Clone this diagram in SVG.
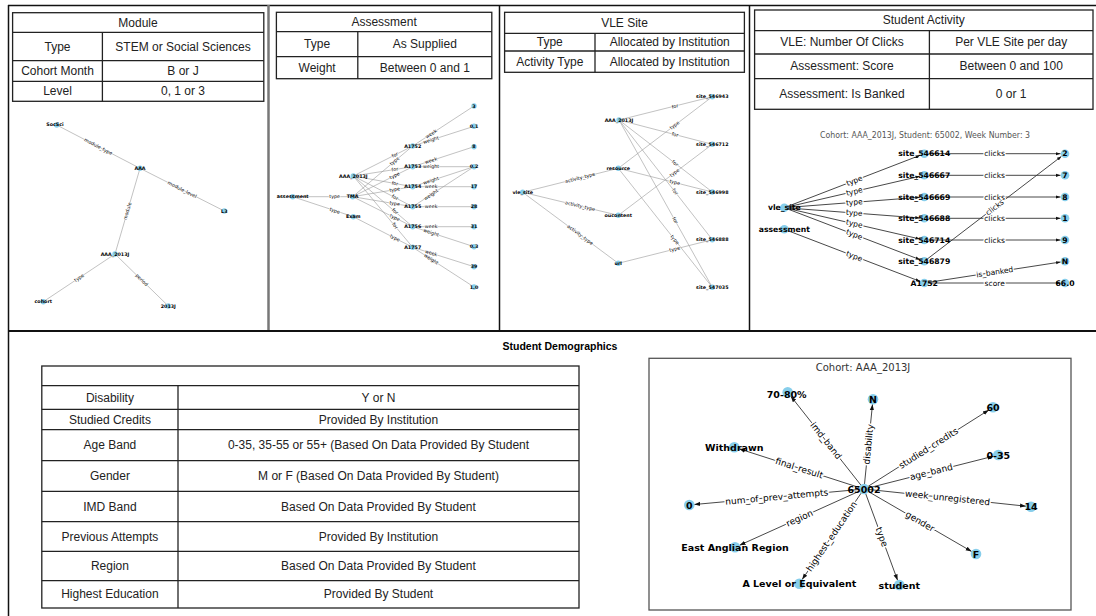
<svg xmlns="http://www.w3.org/2000/svg" width="1096" height="616" viewBox="0 0 1096 616">
<style>
.fr{stroke:#111;stroke-width:1.5;fill:none}
.tb{fill:none;stroke:#222;stroke-width:1.3}
.tt{font-family:"Liberation Sans",Arial,sans-serif;font-size:12px;fill:#222;text-anchor:middle;dominant-baseline:central}
.nd{fill:#87CEEB}
.gl{font-family:"DejaVu Sans",sans-serif;text-anchor:middle;dominant-baseline:central}
.nl{font-weight:bold;fill:#000}
.el{fill:#000;paint-order:stroke;stroke:#fff;stroke-linejoin:round}
.e1{stroke:#999;stroke-width:0.6;fill:none}
.e2{stroke:#333;stroke-width:0.9;fill:none}
.s1 .nl{font-size:4.8px}
.s1 .el{font-size:4.8px;stroke-width:1.2px}
.s2 .nl{font-size:7.7px}
.s2 .el{font-size:7.5px;stroke-width:2.5px}
.s3 .nl{font-size:9.5px}
.s3 .el{font-size:9px;stroke-width:3px}
</style>
<defs>
<marker id="ah" viewBox="0 0 10 10" refX="10" refY="5" markerWidth="6" markerHeight="6" markerUnits="userSpaceOnUse" orient="auto"><path d="M0,1.5 L10,5 L0,8.5 z" fill="#111"/></marker>
<marker id="ah2" viewBox="0 0 10 10" refX="10" refY="5" markerWidth="4.5" markerHeight="4.5" markerUnits="userSpaceOnUse" orient="auto"><path d="M0,1.5 L10,5 L0,8.5 z" fill="#111"/></marker>
</defs>
<rect width="1096" height="616" fill="#fff"/>

<g id="frame">
<line class="fr" x1="8" y1="5.5" x2="1096" y2="5.5"/>
<line class="fr" x1="8.5" y1="5" x2="8.5" y2="616"/>
<line x1="268.5" y1="5" x2="268.5" y2="331" stroke="#777" stroke-width="2.5"/>
<line class="fr" x1="499.5" y1="5" x2="499.5" y2="331"/>
<line class="fr" x1="749.5" y1="5" x2="749.5" y2="331"/>
<line x1="8" y1="331" x2="1096" y2="331" stroke="#111" stroke-width="2"/>
</g>

<g id="table-module">
<rect class="tb" x="12.6" y="12.7" width="251.2" height="88.6"/>
<line class="tb" x1="12.6" y1="32.3" x2="263.8" y2="32.3"/>
<line class="tb" x1="12.6" y1="60.7" x2="263.8" y2="60.7"/>
<line class="tb" x1="12.6" y1="81.3" x2="263.8" y2="81.3"/>
<line class="tb" x1="102.4" y1="32.3" x2="102.4" y2="101.3"/>
<text class="tt" x="138" y="22.5">Module</text>
<text class="tt" x="57.5" y="46.5">Type</text>
<text class="tt" x="183" y="46.5">STEM or Social Sciences</text>
<text class="tt" x="57.5" y="71">Cohort Month</text>
<text class="tt" x="183" y="71">B or J</text>
<text class="tt" x="57.5" y="91.3">Level</text>
<text class="tt" x="183" y="91.3">0, 1 or 3</text>
</g>

<g id="table-assessment">
<rect class="tb" x="276.4" y="12.3" width="215.4" height="66.4"/>
<line class="tb" x1="276.4" y1="31.7" x2="491.8" y2="31.7"/>
<line class="tb" x1="276.4" y1="56.7" x2="491.8" y2="56.7"/>
<line class="tb" x1="357.8" y1="31.7" x2="357.8" y2="78.7"/>
<text class="tt" x="384.1" y="22">Assessment</text>
<text class="tt" x="317.1" y="44.2">Type</text>
<text class="tt" x="424.8" y="44.2">As Supplied</text>
<text class="tt" x="317.1" y="67.7">Weight</text>
<text class="tt" x="424.8" y="67.7">Between 0 and 1</text>
</g>

<g id="table-vle">
<rect class="tb" x="504.6" y="12.3" width="239.8" height="60"/>
<line class="tb" x1="504.6" y1="33.3" x2="744.4" y2="33.3"/>
<line class="tb" x1="504.6" y1="51" x2="744.4" y2="51"/>
<line class="tb" x1="595" y1="33.3" x2="595" y2="72.3"/>
<text class="tt" x="624.5" y="22.8">VLE Site</text>
<text class="tt" x="549.8" y="42.2">Type</text>
<text class="tt" x="669.7" y="42.2">Allocated by Institution</text>
<text class="tt" x="549.8" y="61.7">Activity Type</text>
<text class="tt" x="669.7" y="61.7">Allocated by Institution</text>
</g>

<g id="table-activity">
<rect class="tb" x="754.6" y="10" width="338.4" height="99.3"/>
<line class="tb" x1="754.6" y1="30.7" x2="1093" y2="30.7"/>
<line class="tb" x1="754.6" y1="54" x2="1093" y2="54"/>
<line class="tb" x1="754.6" y1="78.7" x2="1093" y2="78.7"/>
<line class="tb" x1="929.4" y1="30.7" x2="929.4" y2="109.3"/>
<text class="tt" x="923.8" y="20.3">Student Activity</text>
<text class="tt" x="842" y="42.3">VLE: Number Of Clicks</text>
<text class="tt" x="1011.2" y="42.3">Per VLE Site per day</text>
<text class="tt" x="842" y="66.3">Assessment: Score</text>
<text class="tt" x="1011.2" y="66.3">Between 0 and 100</text>
<text class="tt" x="842" y="94">Assessment: Is Banked</text>
<text class="tt" x="1011.2" y="94">0 or 1</text>
</g>

<g id="module-graph" class="gl s1">
<g id="module-connectors">
<line class="e1" x1="140" y1="168.3" x2="56.7" y2="125"/>
<line class="e1" x1="140" y1="168.3" x2="224.3" y2="211"/>
<line class="e1" x1="115" y1="254" x2="140" y2="168.3"/>
<line class="e1" x1="115" y1="254" x2="43.3" y2="301.7"/>
<line class="e1" x1="115" y1="254" x2="168.3" y2="306"/>
<text class="el" transform="translate(98.3,146.7) rotate(27.5)">module_type</text>
<text class="el" transform="translate(182.2,189.7) rotate(26.9)">module_level</text>
<text class="el" transform="translate(127.5,211.2) rotate(-73.7)">module</text>
<text class="el" transform="translate(79.2,277.8) rotate(-33.6)">type</text>
<text class="el" transform="translate(141.7,280) rotate(44.3)">period</text>
</g>
<g id="m-socsci"><circle class="nd" cx="56.7" cy="125" r="2.7"/><text class="nl" x="55" y="124.5">SocSci</text></g>
<g id="m-aaa"><circle class="nd" cx="140" cy="168.3" r="2.7"/><text class="nl" x="140" y="168.3">AAA</text></g>
<g id="m-l3"><circle class="nd" cx="224.3" cy="211" r="2.7"/><text class="nl" x="224.3" y="211">L3</text></g>
<g id="m-aaa2013j"><circle class="nd" cx="115" cy="254" r="2.7"/><text class="nl" x="115" y="254">AAA_2013J</text></g>
<g id="m-cohort"><circle class="nd" cx="43.3" cy="301.7" r="2.7"/><text class="nl" x="43.3" y="301.7">cohort</text></g>
<g id="m-2013j"><circle class="nd" cx="168.3" cy="306" r="2.7"/><text class="nl" x="168.3" y="306">2013J</text></g>
</g>

<g id="assessment-graph" class="gl s1">
<g id="assessment-connectors">
<line class="e1" x1="292.7" y1="196.7" x2="352.7" y2="196.7"/>
<line class="e1" x1="292.7" y1="196.7" x2="353.3" y2="216.7"/>
<line class="e1" x1="352.7" y1="196.7" x2="412.7" y2="146"/>
<line class="e1" x1="352.7" y1="196.7" x2="412.7" y2="166.7"/>
<line class="e1" x1="352.7" y1="196.7" x2="412.7" y2="186.7"/>
<line class="e1" x1="352.7" y1="196.7" x2="412.7" y2="206.7"/>
<line class="e1" x1="352.7" y1="196.7" x2="412.7" y2="226.7"/>
<line class="e1" x1="353.3" y1="216.7" x2="412.7" y2="247.3"/>
<line class="e1" x1="353.3" y1="176" x2="412.7" y2="146"/>
<line class="e1" x1="353.3" y1="176" x2="412.7" y2="166.7"/>
<line class="e1" x1="353.3" y1="176" x2="412.7" y2="186.7"/>
<line class="e1" x1="353.3" y1="176" x2="412.7" y2="206.7"/>
<line class="e1" x1="353.3" y1="176" x2="412.7" y2="226.7"/>
<line class="e1" x1="353.3" y1="176" x2="412.7" y2="247.3"/>
<line class="e1" x1="412.7" y1="146" x2="474" y2="106"/>
<line class="e1" x1="412.7" y1="146" x2="474" y2="126.3"/>
<line class="e1" x1="412.7" y1="166.7" x2="474" y2="146.7"/>
<line class="e1" x1="412.7" y1="166.7" x2="474" y2="166.7"/>
<line class="e1" x1="412.7" y1="186.7" x2="474" y2="166.7"/>
<line class="e1" x1="412.7" y1="186.7" x2="474" y2="186.7"/>
<line class="e1" x1="412.7" y1="206.7" x2="474" y2="166.7"/>
<line class="e1" x1="412.7" y1="206.7" x2="474" y2="206.7"/>
<line class="e1" x1="412.7" y1="226.7" x2="474" y2="226.7"/>
<line class="e1" x1="412.7" y1="226.7" x2="474" y2="246.7"/>
<line class="e1" x1="412.7" y1="247.3" x2="474" y2="266.7"/>
<line class="e1" x1="412.7" y1="247.3" x2="474" y2="287"/>
<text class="el" transform="translate(334.7,196.7)">type</text>
<text class="el" transform="translate(334.7,210.7) rotate(18.3)">type</text>
<text class="el" transform="translate(394.7,161.2) rotate(-40.2)">type</text>
<text class="el" transform="translate(394.7,175.7) rotate(-26.6)">type</text>
<text class="el" transform="translate(394.7,189.7) rotate(-9.5)">type</text>
<text class="el" transform="translate(394.7,203.7) rotate(9.5)">type</text>
<text class="el" transform="translate(394.7,217.7) rotate(26.6)">type</text>
<text class="el" transform="translate(394.9,238.1) rotate(27.3)">type</text>
<text class="el" transform="translate(394.9,155) rotate(-26.8)">for</text>
<text class="el" transform="translate(394.9,169.5) rotate(-8.9)">for</text>
<text class="el" transform="translate(394.9,183.5) rotate(10.2)">for</text>
<text class="el" transform="translate(394.9,197.5) rotate(27.3)">for</text>
<text class="el" transform="translate(394.9,211.5) rotate(40.5)">for</text>
<text class="el" transform="translate(394.9,225.9) rotate(50.2)">for</text>
<text class="el" transform="translate(431.1,134) rotate(-33.1)">week</text>
<text class="el" transform="translate(431.1,140.1) rotate(-17.8)">weight</text>
<text class="el" transform="translate(431.1,160.7) rotate(-18.1)">week</text>
<text class="el" transform="translate(431.1,166.7)">weight</text>
<text class="el" transform="translate(431.1,180.7) rotate(-18.1)">weight</text>
<text class="el" transform="translate(431.1,186.7)">week</text>
<text class="el" transform="translate(431.1,194.7) rotate(-33.1)">weight</text>
<text class="el" transform="translate(431.1,206.7)">week</text>
<text class="el" transform="translate(431.1,226.7)">week</text>
<text class="el" transform="translate(431.1,232.7) rotate(18.1)">weight</text>
<text class="el" transform="translate(431.1,253.1) rotate(17.6)">week</text>
<text class="el" transform="translate(431.1,259.2) rotate(32.9)">weight</text>
</g>
<g id="a-assessment"><circle class="nd" cx="292.7" cy="196.7" r="2.7"/><text class="nl" x="292.7" y="196.7">assessment</text></g>
<g id="a-tma"><circle class="nd" cx="352.7" cy="196.7" r="2.7"/><text class="nl" x="352.7" y="196.7">TMA</text></g>
<g id="a-exam"><circle class="nd" cx="353.3" cy="216.7" r="2.7"/><text class="nl" x="353.3" y="216.7">Exam</text></g>
<g id="a-aaa2013j"><circle class="nd" cx="353.3" cy="176" r="2.7"/><text class="nl" x="353.3" y="176">AAA_2013J</text></g>
<g id="a-a1752"><circle class="nd" cx="412.7" cy="146" r="2.7"/><text class="nl" x="412.7" y="146">A1752</text></g>
<g id="a-a1753"><circle class="nd" cx="412.7" cy="166.7" r="2.7"/><text class="nl" x="412.7" y="166.7">A1753</text></g>
<g id="a-a1754"><circle class="nd" cx="412.7" cy="186.7" r="2.7"/><text class="nl" x="412.7" y="186.7">A1754</text></g>
<g id="a-a1755"><circle class="nd" cx="412.7" cy="206.7" r="2.7"/><text class="nl" x="412.7" y="206.7">A1755</text></g>
<g id="a-a1756"><circle class="nd" cx="412.7" cy="226.7" r="2.7"/><text class="nl" x="412.7" y="226.7">A1756</text></g>
<g id="a-a1757"><circle class="nd" cx="412.7" cy="247.3" r="2.7"/><text class="nl" x="412.7" y="247.3">A1757</text></g>
<g id="a-v3"><circle class="nd" cx="474" cy="106" r="2.7"/><text class="nl" x="474" y="106">3</text></g>
<g id="a-v01"><circle class="nd" cx="474" cy="126.3" r="2.7"/><text class="nl" x="474" y="126.3">0.1</text></g>
<g id="a-v8"><circle class="nd" cx="474" cy="146.7" r="2.7"/><text class="nl" x="474" y="146.7">8</text></g>
<g id="a-v02"><circle class="nd" cx="474" cy="166.7" r="2.7"/><text class="nl" x="474" y="166.7">0.2</text></g>
<g id="a-v17"><circle class="nd" cx="474" cy="186.7" r="2.7"/><text class="nl" x="474" y="186.7">17</text></g>
<g id="a-v28"><circle class="nd" cx="474" cy="206.7" r="2.7"/><text class="nl" x="474" y="206.7">28</text></g>
<g id="a-v31"><circle class="nd" cx="474" cy="226.7" r="2.7"/><text class="nl" x="474" y="226.7">31</text></g>
<g id="a-v03"><circle class="nd" cx="474" cy="246.7" r="2.7"/><text class="nl" x="474" y="246.7">0.3</text></g>
<g id="a-v39"><circle class="nd" cx="474" cy="266.7" r="2.7"/><text class="nl" x="474" y="266.7">39</text></g>
<g id="a-v10"><circle class="nd" cx="474" cy="287" r="2.7"/><text class="nl" x="474" y="287">1.0</text></g>
</g>

<g id="vle-graph" class="gl s1">
<g id="vle-connectors">
<line class="e1" x1="522.7" y1="192.3" x2="618.3" y2="168.3"/>
<line class="e1" x1="522.7" y1="192.3" x2="618.3" y2="215.3"/>
<line class="e1" x1="522.7" y1="192.3" x2="618.3" y2="263.3"/>
<line class="e1" x1="619" y1="120" x2="712.3" y2="96.7"/>
<line class="e1" x1="619" y1="120" x2="712.3" y2="144.3"/>
<line class="e1" x1="619" y1="120" x2="712.3" y2="192"/>
<line class="e1" x1="619" y1="120" x2="712.3" y2="239.7"/>
<line class="e1" x1="619" y1="120" x2="712.3" y2="287.3"/>
<line class="e1" x1="618.3" y1="168.3" x2="712.3" y2="96.7"/>
<line class="e1" x1="618.3" y1="168.3" x2="712.3" y2="192"/>
<line class="e1" x1="618.3" y1="168.3" x2="712.3" y2="287.3"/>
<line class="e1" x1="618.3" y1="215.3" x2="712.3" y2="144.3"/>
<line class="e1" x1="618.3" y1="263.3" x2="712.3" y2="239.7"/>
<text class="el" transform="translate(580.1,177.9) rotate(-14.1)">activity_type</text>
<text class="el" transform="translate(580.1,206.1) rotate(13.5)">activity_type</text>
<text class="el" transform="translate(580.1,234.9) rotate(36.6)">activity_type</text>
<text class="el" transform="translate(675,106.4) rotate(-14)">for</text>
<text class="el" transform="translate(675,134.6) rotate(14.6)">for</text>
<text class="el" transform="translate(675,163.2) rotate(37.7)">for</text>
<text class="el" transform="translate(675,191.8) rotate(52.1)">for</text>
<text class="el" transform="translate(675,220.4) rotate(60.9)">for</text>
<text class="el" transform="translate(674.7,125.3) rotate(-37.3)">type</text>
<text class="el" transform="translate(674.7,182.5) rotate(14.2)">type</text>
<text class="el" transform="translate(674.7,239.7) rotate(51.7)">type</text>
<text class="el" transform="translate(674.7,172.7) rotate(-37.1)">type</text>
<text class="el" transform="translate(674.7,249.1) rotate(-14.1)">type</text>
</g>
<g id="v-vlesite"><circle class="nd" cx="522.7" cy="192.3" r="2.7"/><text class="nl" x="522.7" y="192.3">vle_site</text></g>
<g id="v-aaa2013j"><circle class="nd" cx="619" cy="120" r="2.7"/><text class="nl" x="619" y="120">AAA_2013J</text></g>
<g id="v-resource"><circle class="nd" cx="618.3" cy="168.3" r="2.7"/><text class="nl" x="618.3" y="168.3">resource</text></g>
<g id="v-oucontent"><circle class="nd" cx="618.3" cy="215.3" r="2.7"/><text class="nl" x="618.3" y="215.3">oucontent</text></g>
<g id="v-url"><circle class="nd" cx="618.3" cy="263.3" r="2.7"/><text class="nl" x="618.3" y="263.3">url</text></g>
<g id="v-s546943"><circle class="nd" cx="712.3" cy="96.7" r="2.7"/><text class="nl" x="712.3" y="96.7">site_546943</text></g>
<g id="v-s546712"><circle class="nd" cx="712.3" cy="144.3" r="2.7"/><text class="nl" x="712.3" y="144.3">site_546712</text></g>
<g id="v-s546998"><circle class="nd" cx="712.3" cy="192" r="2.7"/><text class="nl" x="712.3" y="192">site_546998</text></g>
<g id="v-s546888"><circle class="nd" cx="712.3" cy="239.7" r="2.7"/><text class="nl" x="712.3" y="239.7">site_546888</text></g>
<g id="v-s547035"><circle class="nd" cx="712.3" cy="287.3" r="2.7"/><text class="nl" x="712.3" y="287.3">site_547035</text></g>
</g>

<g id="activity-graph" class="gl s2">
<text x="925" y="135" font-size="8px" fill="#555" textLength="210" lengthAdjust="spacingAndGlyphs">Cohort: AAA_2013J, Student: 65002, Week Number: 3</text>
<g id="activity-connectors">
<line class="e2" x1="784.3" y1="207.7" x2="920.1" y2="155.3" marker-end="url(#ah2)"/>
<line class="e2" x1="784.3" y1="207.7" x2="919.9" y2="176.3" marker-end="url(#ah2)"/>
<line class="e2" x1="784.3" y1="207.7" x2="919.8" y2="197.3" marker-end="url(#ah2)"/>
<line class="e2" x1="784.3" y1="207.7" x2="919.8" y2="218" marker-end="url(#ah2)"/>
<line class="e2" x1="784.3" y1="207.7" x2="919.9" y2="239" marker-end="url(#ah2)"/>
<line class="e2" x1="784.3" y1="207.7" x2="920.1" y2="259.7" marker-end="url(#ah2)"/>
<line class="e2" x1="784.3" y1="229.3" x2="920.1" y2="281.4" marker-end="url(#ah2)"/>
<line class="e2" x1="924.3" y1="153.7" x2="1060.5" y2="153.7" marker-end="url(#ah2)"/>
<line class="e2" x1="924.3" y1="175.3" x2="1060.5" y2="175.3" marker-end="url(#ah2)"/>
<line class="e2" x1="924.3" y1="197" x2="1060.5" y2="197" marker-end="url(#ah2)"/>
<line class="e2" x1="924.3" y1="218.3" x2="1060.5" y2="218.3" marker-end="url(#ah2)"/>
<line class="e2" x1="924.3" y1="240" x2="1060.5" y2="240" marker-end="url(#ah2)"/>
<line class="e2" x1="924.3" y1="261.3" x2="1061.4" y2="156.4" marker-end="url(#ah2)"/>
<line class="e2" x1="924.3" y1="283" x2="1060.6" y2="262" marker-end="url(#ah2)"/>
<line class="e2" x1="924.3" y1="283" x2="1060.5" y2="283" marker-end="url(#ah2)"/>
<text class="el" transform="translate(854.3,180.7) rotate(-21.1)">type</text>
<text class="el" transform="translate(854.3,191.5) rotate(-13)">type</text>
<text class="el" transform="translate(854.3,202.3) rotate(-4.4)">type</text>
<text class="el" transform="translate(854.3,213) rotate(4.3)">type</text>
<text class="el" transform="translate(854.3,223.8) rotate(13)">type</text>
<text class="el" transform="translate(854.3,234.5) rotate(20.9)">type</text>
<text class="el" transform="translate(854.3,256.2) rotate(21)">type</text>
<text class="el" x="994.6" y="153.7">clicks</text>
<text class="el" x="994.6" y="175.3">clicks</text>
<text class="el" x="994.6" y="197">clicks</text>
<text class="el" x="994.6" y="218.3">clicks</text>
<text class="el" x="994.6" y="240">clicks</text>
<text class="el" transform="translate(994.7,207.5) rotate(-37.4)">clicks</text>
<text class="el" transform="translate(994.7,272.2) rotate(-8.8)">is_banked</text>
<text class="el" x="994.7" y="283">score</text>
</g>
<g id="s-vlesite"><circle class="nd" cx="784.3" cy="207.7" r="4.3"/><text class="nl" x="784.3" y="207.7">vle_site</text></g>
<g id="s-assessment"><circle class="nd" cx="784.3" cy="229.3" r="4.3"/><text class="nl" x="784.3" y="229.3">assessment</text></g>
<g id="s-546614"><circle class="nd" cx="924.3" cy="153.7" r="4.3"/><text class="nl" x="924.3" y="153.7">site_546614</text></g>
<g id="s-546667"><circle class="nd" cx="924.3" cy="175.3" r="4.3"/><text class="nl" x="924.3" y="175.3">site_546667</text></g>
<g id="s-546669"><circle class="nd" cx="924.3" cy="197" r="4.3"/><text class="nl" x="924.3" y="197">site_546669</text></g>
<g id="s-546688"><circle class="nd" cx="924.3" cy="218.3" r="4.3"/><text class="nl" x="924.3" y="218.3">site_546688</text></g>
<g id="s-546714"><circle class="nd" cx="924.3" cy="240" r="4.3"/><text class="nl" x="924.3" y="240">site_546714</text></g>
<g id="s-546879"><circle class="nd" cx="924.3" cy="261.3" r="4.3"/><text class="nl" x="924.3" y="261.3">site_546879</text></g>
<g id="s-a1752"><circle class="nd" cx="924.3" cy="283" r="4.3"/><text class="nl" x="924.3" y="283">A1752</text></g>
<g id="s-v2"><circle class="nd" cx="1065" cy="153.7" r="4.3"/><text class="nl" x="1065" y="153.7">2</text></g>
<g id="s-v7"><circle class="nd" cx="1065" cy="175.3" r="4.3"/><text class="nl" x="1065" y="175.3">7</text></g>
<g id="s-v8"><circle class="nd" cx="1065" cy="197" r="4.3"/><text class="nl" x="1065" y="197">8</text></g>
<g id="s-v1"><circle class="nd" cx="1065" cy="218.3" r="4.3"/><text class="nl" x="1065" y="218.3">1</text></g>
<g id="s-v9"><circle class="nd" cx="1065" cy="240" r="4.3"/><text class="nl" x="1065" y="240">9</text></g>
<g id="s-vn"><circle class="nd" cx="1065" cy="261.3" r="4.3"/><text class="nl" x="1065" y="261.3">N</text></g>
<g id="s-v66"><circle class="nd" cx="1065" cy="283" r="4.3"/><text class="nl" x="1065" y="283">66.0</text></g>
</g>

<text x="560" y="346" font-family="'Liberation Sans',Arial,sans-serif" font-size="10.5px" font-weight="bold" text-anchor="middle" dominant-baseline="central" fill="#000">Student Demographics</text>
<g id="table-demographics">
<rect class="tb" x="41.8" y="366" width="537.2" height="242"/>
<line class="tb" x1="41.8" y1="385.7" x2="579" y2="385.7"/>
<line class="tb" x1="41.8" y1="409.3" x2="579" y2="409.3"/>
<line class="tb" x1="41.8" y1="429.7" x2="579" y2="429.7"/>
<line class="tb" x1="41.8" y1="460.7" x2="579" y2="460.7"/>
<line class="tb" x1="41.8" y1="491.3" x2="579" y2="491.3"/>
<line class="tb" x1="41.8" y1="521.7" x2="579" y2="521.7"/>
<line class="tb" x1="41.8" y1="551.3" x2="579" y2="551.3"/>
<line class="tb" x1="41.8" y1="580.7" x2="579" y2="580.7"/>
<line class="tb" x1="178" y1="385.7" x2="178" y2="608"/>
<text class="tt" x="109.9" y="397.5">Disability</text>
<text class="tt" x="378.5" y="397.5">Y or N</text>
<text class="tt" x="109.9" y="419.5">Studied Credits</text>
<text class="tt" x="378.5" y="419.5">Provided By Institution</text>
<text class="tt" x="109.9" y="445.2">Age Band</text>
<text class="tt" x="378.5" y="445.2">0-35, 35-55 or 55+ (Based On Data Provided By Student</text>
<text class="tt" x="109.9" y="476">Gender</text>
<text class="tt" x="378.5" y="476">M or F (Based On Data Provided By Student)</text>
<text class="tt" x="109.9" y="506.5">IMD Band</text>
<text class="tt" x="378.5" y="506.5">Based On Data Provided By Student</text>
<text class="tt" x="109.9" y="536.5">Previous Attempts</text>
<text class="tt" x="378.5" y="536.5">Provided By Institution</text>
<text class="tt" x="109.9" y="566">Region</text>
<text class="tt" x="378.5" y="566">Based On Data Provided By Student</text>
<text class="tt" x="109.9" y="594.3">Highest Education</text>
<text class="tt" x="378.5" y="594.3">Provided By Student</text>
</g>

<g id="demographics-graph" class="gl s3">
<rect x="649" y="358.3" width="422" height="251.7" fill="none" stroke="#555" stroke-width="1.3"/>
<text x="863" y="367" font-size="10px" fill="#333">Cohort: AAA_2013J</text>
<g id="demographics-connectors">
<line class="e2" x1="860.9" y1="485.1" x2="790.8" y2="396.2" marker-end="url(#ah)"/>
<line class="e2" x1="864.5" y1="484" x2="872.5" y2="404.3" marker-end="url(#ah)"/>
<line class="e2" x1="868.2" y1="486.3" x2="988.8" y2="410" marker-end="url(#ah)"/>
<line class="e2" x1="859.2" y1="487.5" x2="739.1" y2="448.8" marker-end="url(#ah)"/>
<line class="e2" x1="868.9" y1="487.8" x2="993.5" y2="456.2" marker-end="url(#ah)"/>
<line class="e2" x1="859" y1="489.5" x2="694.3" y2="504.5" marker-end="url(#ah)"/>
<line class="e2" x1="869" y1="489.5" x2="1026" y2="506.2" marker-end="url(#ah)"/>
<line class="e2" x1="859.4" y1="491.1" x2="739.6" y2="545.2" marker-end="url(#ah)"/>
<line class="e2" x1="868.3" y1="491.5" x2="971.7" y2="551.5" marker-end="url(#ah)"/>
<line class="e2" x1="861.2" y1="493.1" x2="802.1" y2="579.6" marker-end="url(#ah)"/>
<line class="e2" x1="865.7" y1="493.7" x2="897.6" y2="580.3" marker-end="url(#ah)"/>
<text class="el" transform="translate(825.9,440.7) rotate(51.7)">imd_band</text>
<text class="el" transform="translate(868.5,444.2) rotate(-84.3)">disability</text>
<text class="el" transform="translate(928.5,448.2) rotate(-32.3)">studied_credits</text>
<text class="el" transform="translate(799.2,468.2) rotate(17.8)">final_result</text>
<text class="el" transform="translate(931.2,472) rotate(-14.2)">age_band</text>
<text class="el" transform="translate(776.7,497) rotate(-5.2)">num_of_prev_attempts</text>
<text class="el" transform="translate(947.5,497.9) rotate(6.05)">week_unregistered</text>
<text class="el" transform="translate(799.5,518.2) rotate(-24.3)">region</text>
<text class="el" transform="translate(920,521.5) rotate(30.1)">gender</text>
<text class="el" transform="translate(831.7,536.4) rotate(-55.7)">highest_education</text>
<text class="el" transform="translate(881.7,537) rotate(69.8)">type</text>
</g>
<g id="d-65002"><circle class="nd" cx="864" cy="489" r="5.3"/><text class="nl" x="864" y="489">65002</text></g>
<g id="d-imd"><circle class="nd" cx="787.7" cy="392.3" r="5.3"/><text class="nl" x="786.7" y="394">70-80%</text></g>
<g id="d-n"><circle class="nd" cx="873" cy="399.3" r="5.3"/><text class="nl" x="873" y="399.3">N</text></g>
<g id="d-60"><circle class="nd" cx="993" cy="407.3" r="5.3"/><text class="nl" x="993" y="407.3">60</text></g>
<g id="d-withdrawn"><circle class="nd" cx="734.3" cy="447.3" r="5.3"/><text class="nl" x="734.3" y="447">Withdrawn</text></g>
<g id="d-035"><circle class="nd" cx="998.3" cy="455" r="5.3"/><text class="nl" x="998.3" y="455">0-35</text></g>
<g id="d-0"><circle class="nd" cx="689.3" cy="505" r="5.3"/><text class="nl" x="689.3" y="505">0</text></g>
<g id="d-14"><circle class="nd" cx="1031" cy="506.7" r="5.3"/><text class="nl" x="1031" y="506.7">14</text></g>
<g id="d-region"><circle class="nd" cx="735" cy="547.3" r="5.3"/><text class="nl" x="735" y="547.3">East Anglian Region</text></g>
<g id="d-f"><circle class="nd" cx="976" cy="554" r="5.3"/><text class="nl" x="976" y="554">F</text></g>
<g id="d-alevel"><circle class="nd" cx="799.3" cy="583.7" r="5.3"/><text class="nl" x="799.3" y="583.3">A Level or Equivalent</text></g>
<g id="d-student"><circle class="nd" cx="899.3" cy="585" r="5.3"/><text class="nl" x="899.3" y="585">student</text></g>
</g>
</svg>
